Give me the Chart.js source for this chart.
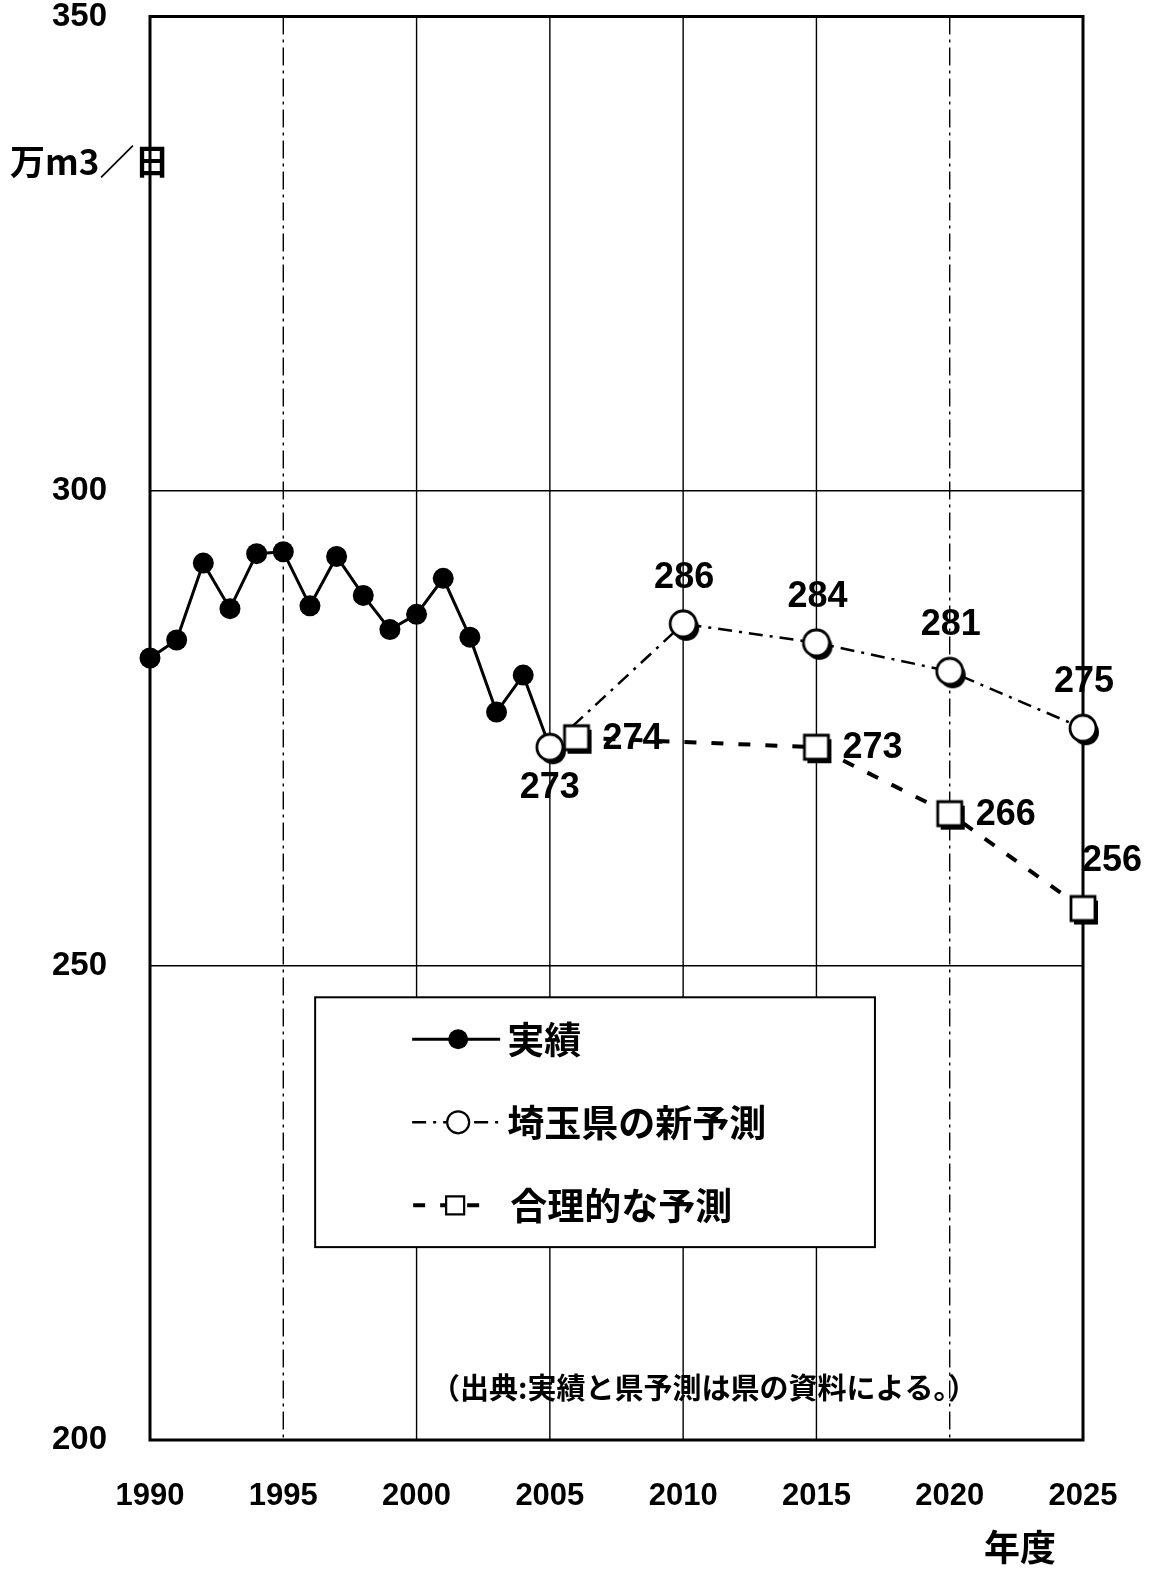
<!DOCTYPE html>
<html lang="ja">
<head>
<meta charset="utf-8">
<title>水需要の実績と予測</title>
<script src="https://cdn.jsdelivr.net/npm/chart.js@4.4.1/dist/chart.umd.min.js"></script>
<style>
  html, body { margin: 0; padding: 0; background: #fff; }
  #wrap { position: relative; width: 1157px; height: 1578px; }
</style>
</head>
<body>
<div id="wrap"><canvas id="c" width="1157" height="1578"></canvas></div>
<script>
// 実績（年度別）
const actualYears  = [1990, 1991, 1992, 1993, 1994, 1995, 1996, 1997, 1998, 1999, 2000, 2001, 2002, 2003, 2004, 2005];
const actualValues = [282.4, 284.3, 292.4, 287.6, 293.4, 293.6, 287.9, 293.1, 289.0, 285.4, 287.0, 290.8, 284.6, 276.7, 280.6, 273];

// 埼玉県の新予測
const prefYears  = [2005, 2010, 2015, 2020, 2025];
const prefValues = [273, 286, 284, 281, 275];

// 合理的な予測
const altYears  = [2006, 2015, 2020, 2025];
const altValues = [274, 273, 266, 256];

const seriesNames = ['実績', '埼玉県の新予測', '合理的な予測'];
const yAxisUnit = '万m3／日';
const xAxisName = '年度';
const sourceNote = '（出典:実績と県予測は県の資料による。）';

const LATIN = '"Liberation Sans", Arial, sans-serif';
const CJK = '"Noto Sans CJK JP", "Noto Sans CJK SC", sans-serif';

const toPoints = (xs, ys) => xs.map((x, i) => ({ x: x, y: ys[i] }));

// marker images with a hard drop shadow
function markerImage(kind) {
  const s = 48, c = document.createElement('canvas');
  c.width = s; c.height = s;
  const g = c.getContext('2d');
  const cx = s / 2, cy = s / 2;
  const shape = (ox, oy) => {
    g.beginPath();
    if (kind === 'circle') g.arc(cx + ox, cy + oy, 13, 0, Math.PI * 2);
    else g.rect(cx + ox - 12, cy + oy - 12, 24, 24);
  };
  g.fillStyle = '#000';
  shape(3, 4); g.fill();
  shape(0, 0);
  g.fillStyle = '#fff'; g.fill();
  g.lineWidth = 2.8; g.strokeStyle = '#000'; g.stroke();
  return c;
}
const circleImg = markerImage('circle');
const squareImg = markerImage('square');

const dashPref = [14, 7, 3, 7];
const dashAlt = [12, 15];

// vertical year lines (some drawn dash-dot) and plot frame
const yearLines = {
  id: 'yearLines',
  beforeDatasetsDraw(chart) {
    const { ctx, chartArea: ca, scales: { x } } = chart;
    ctx.save();
    ctx.strokeStyle = '#000';
    ctx.lineWidth = 1.4;
    x.ticks.forEach(t => {
      if (t.value <= x.min || t.value >= x.max) return;
      const px = x.getPixelForValue(t.value);
      ctx.setLineDash(t.value === 1995 || t.value === 2020 ? [18, 5, 3, 5] : []);
      ctx.beginPath();
      ctx.moveTo(px, ca.top);
      ctx.lineTo(px, ca.bottom);
      ctx.stroke();
    });
    ctx.setLineDash([]);
    ctx.lineWidth = 3;
    ctx.strokeRect(ca.left, ca.top, ca.right - ca.left, ca.bottom - ca.top);
    ctx.restore();
  }
};

// value labels, legend box and free texts
const annotations = {
  id: 'annotations',
  afterDatasetsDraw(chart) {
    const { ctx, chartArea: ca } = chart;
    const w = ca.right - ca.left, h = ca.bottom - ca.top;
    ctx.save();
    ctx.fillStyle = '#000';
    ctx.textBaseline = 'middle';
    ctx.font = 'bold 36px ' + LATIN;

    // labels of 埼玉県の新予測
    chart.getDatasetMeta(1).data.forEach((pt, i) => {
      ctx.textAlign = 'center';
      if (i === 0) ctx.fillText(String(prefValues[i]), pt.x, pt.y + 41);
      else ctx.fillText(String(prefValues[i]), pt.x + 1, pt.y - 46);
    });
    // labels of 合理的な予測
    chart.getDatasetMeta(2).data.forEach((pt, i) => {
      const last = i === altValues.length - 1;
      ctx.textAlign = 'left';
      if (last) ctx.fillText(String(altValues[i]), pt.x - 1, pt.y - 47);
      else ctx.fillText(String(altValues[i]), pt.x + 26, pt.y + 1);
    });

    // legend box
    const bx = ca.left + w * 0.177, bxr = ca.left + w * 0.777;
    const by = ca.top + h * 0.689, byb = ca.top + h * 0.8645;
    ctx.fillStyle = '#fff';
    ctx.fillRect(bx, by, bxr - bx, byb - by);
    ctx.strokeStyle = '#000';
    ctx.lineWidth = 2;
    ctx.strokeRect(bx, by, bxr - bx, byb - by);

    const ds = chart.data.datasets;
    const rows = [42, 125, 208];
    const spans = [[97, 185], [97, 185], [98, 170]];
    rows.forEach((ry, i) => {
      const y = by + ry;
      const x0 = bx + spans[i][0], x1 = bx + spans[i][1], xm = bx + (i === 2 ? 140 : 143);
      ctx.save();
      ctx.strokeStyle = '#000';
      ctx.lineWidth = ds[i].borderWidth;
      ctx.setLineDash(ds[i].borderDash || []);
      ctx.beginPath(); ctx.moveTo(x0, y); ctx.lineTo(x1, y); ctx.stroke();
      ctx.setLineDash([]);
      ctx.lineWidth = 2.2;
      ctx.beginPath();
      if (i === 0) { ctx.arc(xm, y, 10, 0, Math.PI * 2); ctx.fillStyle = '#000'; ctx.fill(); }
      else if (i === 1) { ctx.arc(xm, y, 11, 0, Math.PI * 2); ctx.fillStyle = '#fff'; ctx.fill(); ctx.stroke(); }
      else { ctx.rect(xm - 9, y - 9, 18, 18); ctx.fillStyle = '#fff'; ctx.fill(); ctx.stroke(); }
      ctx.restore();
      ctx.fillStyle = '#000';
      ctx.textAlign = 'left';
      ctx.font = 'bold 37px ' + CJK;
      ctx.fillText(seriesNames[i], bx + (i === 2 ? 195 : 192), y + 1);
    });

    // axis captions and source note
    ctx.fillStyle = '#000';
    ctx.textAlign = 'left';
    ctx.font = 'bold 35px ' + CJK;
    ctx.fillText(yAxisUnit, ca.left - 140, ca.top + 145);
    ctx.textAlign = 'center';
    ctx.font = 'bold 36px ' + CJK;
    ctx.fillText(xAxisName, ca.right - 63, ca.bottom + 107);
    ctx.font = 'bold 29px ' + CJK;
    ctx.fillText(sourceNote, ca.left + 554, ca.bottom - 52);
    ctx.restore();
  }
};

new Chart(document.getElementById('c'), {
  type: 'line',
  data: {
    datasets: [
      {
        label: seriesNames[0],
        data: toPoints(actualYears, actualValues),
        borderColor: '#000',
        borderWidth: 3,
        pointRadius: 10.5,
        pointBackgroundColor: '#000',
        pointBorderColor: '#000',
        pointBorderWidth: 0,
        clip: false,
        order: 3
      },
      {
        label: seriesNames[1],
        data: toPoints(prefYears, prefValues),
        borderColor: '#000',
        borderWidth: 2.5,
        borderDash: dashPref,
        pointStyle: circleImg,
        clip: false,
        order: 2
      },
      {
        label: seriesNames[2],
        data: toPoints(altYears, altValues),
        borderColor: '#000',
        borderWidth: 4,
        borderDash: dashAlt,
        pointStyle: squareImg,
        clip: false,
        order: 1
      }
    ]
  },
  options: {
    responsive: false,
    animation: false,
    events: [],
    layout: { padding: { top: 0, right: 74, left: 0, bottom: 0 } },
    plugins: { legend: { display: false }, tooltip: { enabled: false } },
    scales: {
      x: {
        type: 'linear',
        min: 1990,
        max: 2025,
        afterFit(s) { s.height = 138; },
        ticks: {
          stepSize: 5,
          color: '#000',
          padding: 30,
          font: { family: LATIN, weight: 'bold', size: 31 },
          callback: v => String(v)
        },
        grid: { display: false },
        border: { display: false }
      },
      y: {
        min: 200,
        max: 350,
        afterFit(s) { s.width = 150; },
        ticks: {
          stepSize: 50,
          color: '#000',
          padding: 0,
          font: { family: LATIN, weight: 'bold', size: 33, lineHeight: 1 },
          callback: v => String(v)
        },
        grid: { color: '#000', lineWidth: 1.4, drawTicks: true, tickLength: 43, tickColor: 'rgba(0,0,0,0)' },
        border: { display: false }
      }
    }
  },
  plugins: [yearLines, annotations]
});
</script>
</body>
</html>
